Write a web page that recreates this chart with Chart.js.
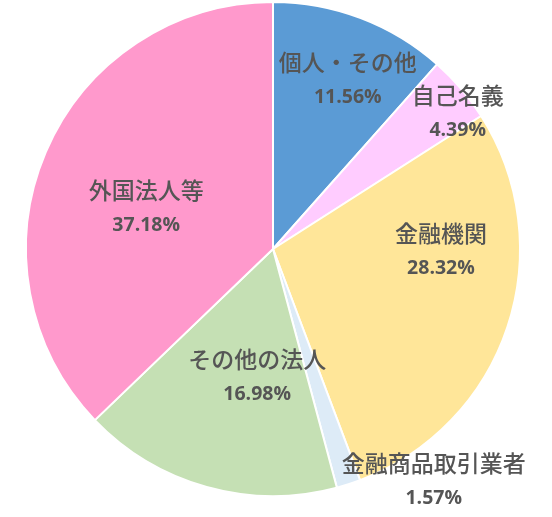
<!DOCTYPE html>
<html>
<head>
<meta charset="utf-8">
<style>
  html, body { margin: 0; padding: 0; background: #ffffff; }
  #wrap { width: 552px; height: 517px; }
</style>
<script src="https://cdn.jsdelivr.net/npm/chart.js@4.4.1/dist/chart.umd.min.js"></script>
</head>
<body>
<div id="wrap"><canvas id="chart" width="552" height="517"></canvas></div>
<script>
// data
const categories = ["個人・その他", "自己名義", "金融機関", "金融商品取引業者", "その他の法人", "外国法人等"]
const shares = [11.56, 4.39, 28.32, 1.57, 16.98, 37.18]
const sliceColors = ["#5B9BD5", "#FFCCFF", "#FFE699", "#DDEBF7", "#C5E0B4", "#FF99CC"]

// label placement relative to each slice (angle shift in degrees, fraction of radius)
const labelAngleShift = [3, 4, -18, -17, -8.5, -5]
const labelRadius = [0.75, 0.93, 0.68, 1.14, 0.52, 0.54]

const textColor = "#555555"

const sliceLabels = {
  id: "sliceLabels",
  afterDatasetsDraw(chart) {
    const ctx = chart.ctx
    const meta = chart.getDatasetMeta(0)
    ctx.save()
    ctx.textAlign = "center"
    ctx.textBaseline = "middle"
    ctx.fillStyle = textColor
    meta.data.forEach((arc, i) => {
      const mid = (arc.startAngle + arc.endAngle) / 2 + labelAngleShift[i] * Math.PI / 180
      const r = arc.outerRadius * labelRadius[i]
      const x = arc.x + Math.cos(mid) * r
      const y = arc.y + Math.sin(mid) * r
      ctx.font = "500 23px 'Noto Sans CJK JP'"
      ctx.fillText(categories[i], x, y - 17)
      ctx.font = "bold 19.5px 'Open Sans', 'Noto Sans CJK JP'"
      ctx.fillText(shares[i].toFixed(2) + "%", x, y + 18)
    })
    ctx.restore()
  }
}

new Chart(document.getElementById("chart"), {
  type: "pie",
  data: {
    labels: categories,
    datasets: [{
      data: shares,
      backgroundColor: sliceColors,
      borderColor: "#ffffff",
      borderWidth: 2,
      hoverOffset: 0
    }]
  },
  options: {
    responsive: false,
    animation: false,
    layout: { padding: { left: 25, top: 1, right: 31, bottom: 20 } },
    plugins: {
      legend: { display: false },
      tooltip: { enabled: false }
    }
  },
  plugins: [sliceLabels]
})
</script>
</body>
</html>
